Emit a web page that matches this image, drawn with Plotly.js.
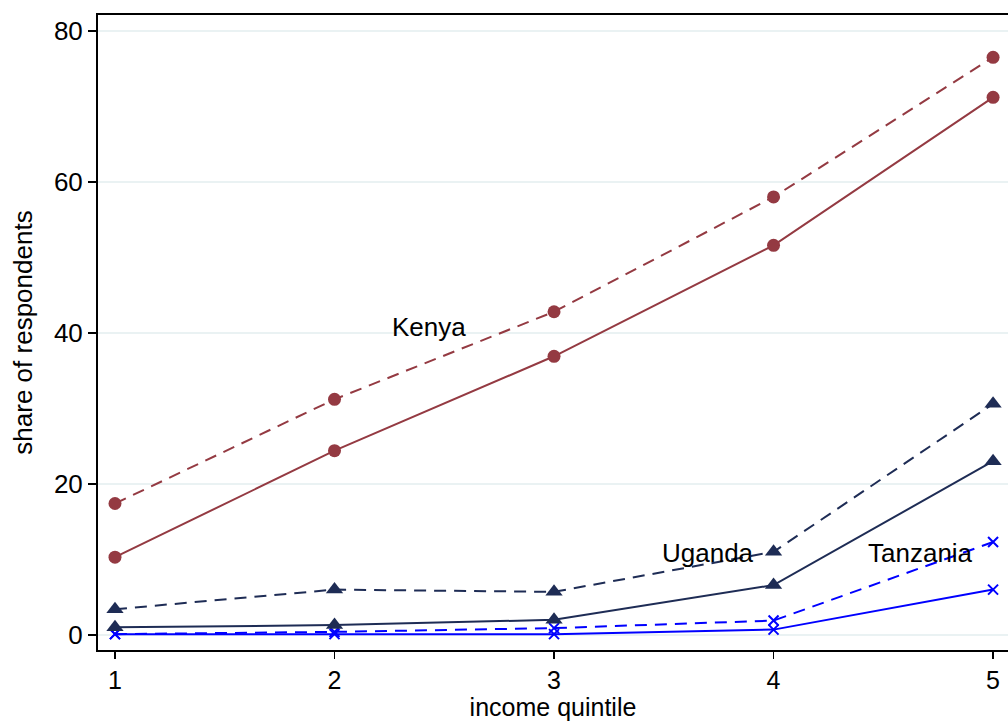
<!DOCTYPE html>
<html>
<head>
<meta charset="utf-8">
<script src="https://cdn.plot.ly/plotly-3.0.1.min.js"></script>
<style>html,body{margin:0;padding:0;background:#fff;}#chart{width:1008px;height:721px;}</style>
</head>
<body>
<div id="chart"></div>
<script>
const quintiles = [1, 2, 3, 4, 5];
const kenyaDashed = [17.4, 31.2, 42.8, 58.0, 76.5];
const kenyaSolid = [10.3, 24.4, 36.9, 51.6, 71.2];
const ugandaDashed = [3.4, 6.0, 5.7, 11.0, 30.6];
const ugandaSolid = [1.0, 1.3, 2.0, 6.6, 23.0];
const tanzaniaDashed = [0.1, 0.4, 0.9, 1.9, 12.3];
const tanzaniaSolid = [0.1, 0.1, 0.1, 0.7, 6.0];
const countryLabels = ["Kenya", "Uganda", "Tanzania"];
const labelX = [2.43, 3.70, 4.67];
const labelY = [40.8, 10.9, 10.9];

const maroon = "#943a42";
const navy = "#1e2c55";
const blue = "#0000ff";

function tr(y, color, dash, symbol, size) {
  return {x: quintiles, y: y, type: "scatter", mode: "lines+markers",
    line: {color: color, width: 2, dash: dash},
    marker: {color: color, symbol: symbol, size: size, line: {width: symbol === "x-thin" ? 2 : 0, color: color}},
    showlegend: false, hoverinfo: "skip"};
}
const dashPat = "12px,8px";
const data = [
  tr(tanzaniaSolid, blue, "solid", "x-thin", 10),
  tr(tanzaniaDashed, blue, dashPat, "x-thin", 10),
  tr(ugandaSolid, navy, "solid", "triangle-up", 15),
  tr(ugandaDashed, navy, dashPat, "triangle-up", 15),
  tr(kenyaSolid, maroon, "solid", "circle", 13),
  tr(kenyaDashed, maroon, dashPat, "circle", 13)
];

const font = {family: "Liberation Sans, Arial, sans-serif", size: 26, color: "#000"};
const xtickFont = {family: "Liberation Sans, Arial, sans-serif", size: 25, color: "#000"};
const layout = {
  width: 1008, height: 721,
  margin: {l: 98, r: 0, t: 15, b: 71},
  paper_bgcolor: "#fff", plot_bgcolor: "#fff",
  font: font,
  xaxis: {range: [0.9226, 5.068], tickvals: quintiles, ticktext: quintiles.map(String),
    showgrid: false, zeroline: false, showline: true, linecolor: "#000", linewidth: 2, mirror: true,
    ticks: "outside", ticklen: 7, tickwidth: 1.5, tickcolor: "#000", tickfont: xtickFont,
    title: {text: "income quintile", font: xtickFont, standoff: 5}},
  yaxis: {range: [-2, 82.1], tickvals: [0, 20, 40, 60, 80],
    showgrid: true, gridcolor: "#eaf2f3", gridwidth: 1.5, zeroline: false,
    showline: true, linecolor: "#000", linewidth: 2, mirror: false,
    ticks: "outside", ticklen: 8, tickwidth: 1.5, tickcolor: "#000", tickfont: font,
    title: {text: "share of respondents", font: font, standoff: 14}},
  annotations: countryLabels.map((t, i) => ({x: labelX[i], y: labelY[i], xref: "x", yref: "y",
    text: t, showarrow: false, font: font, xanchor: "center", yanchor: "middle"}))
};
Plotly.newPlot("chart", data, layout, {displayModeBar: false, staticPlot: true});
</script>
</body>
</html>
